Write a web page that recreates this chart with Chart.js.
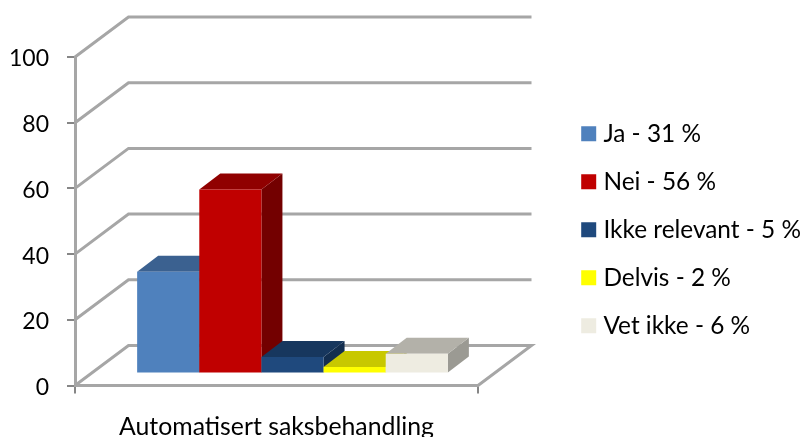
<!DOCTYPE html>
<html><head><meta charset="utf-8">
<style>html,body{margin:0;padding:0;background:#fff}#w{width:802px;height:437px;position:relative}</style>
<script src="https://cdn.jsdelivr.net/npm/chart.js@4"></script>
</head><body><div id="w"><canvas id="c" width="802" height="437"></canvas></div>
<script>
const categories = ['Automatisert saksbehandling'];
const seriesNames = ['Ja - 31 %','Nei - 56 %','Ikke relevant - 5 %','Delvis - 2 %','Vet ikke - 6 %'];
const seriesValues = [31,56,5,2,6];
const frontColors = ['#4F81BD','#C00000','#1F497D','#FFFF00','#EEECE1'];
const topColors = ['#3B6190','#900000','#17375E','#C8C800','#B3B1A9'];
const sideColors = ['#325279','#730000','#132E4F','#A3A300','#9B9A93'];
const tickValues = [0,20,40,60,80,100];
const FONT = 'Lato, Carlito, Calibri, sans-serif';
const WALL = {dx:53.5, dy:-40};
const SHIFT = {dx:16, dy:-12};
const DEPTH = {dx:21, dy:-16};
const LEG_DY = 8.5;
const LEG_DX = 5.6;

const poly=(ctx,pts,color)=>{ctx.beginPath();pts.forEach((p,i)=>i?ctx.lineTo(p[0],p[1]):ctx.moveTo(p[0],p[1]));ctx.closePath();ctx.fillStyle=color;ctx.fill();};

const box3d = {
  id:'box3d',
  afterLayout(chart){ const l=chart.legend; l.top+=LEG_DY; l.bottom+=LEG_DY; l.left+=LEG_DX; l.right+=LEG_DX; },
  beforeDatasetsDraw(chart){
    const {ctx,chartArea:a,scales:{y}}=chart;
    ctx.save();
    ctx.strokeStyle='#A6A6A6'; ctx.lineWidth=3; ctx.lineJoin='miter';
    tickValues.forEach(v=>{
      const py=y.getPixelForValue(v);
      ctx.beginPath();
      ctx.moveTo(a.left,py);
      ctx.lineTo(a.left+WALL.dx,py+WALL.dy);
      ctx.lineTo(a.right+WALL.dx,py+WALL.dy);
      if(v===0) ctx.lineTo(a.right,py);
      ctx.stroke();
    });
    chart.getSortedVisibleDatasetMetas().sort((p,q)=>p.index-q.index).forEach(meta=>{
      meta.data.forEach(el=>{
        const l=el.x-el.width/2+SHIFT.dx, r=el.x+el.width/2+SHIFT.dx;
        const t=el.y+SHIFT.dy, b=el.base+SHIFT.dy, i=meta.index;
        poly(ctx,[[r,t],[r+DEPTH.dx,t+DEPTH.dy],[r+DEPTH.dx,b+DEPTH.dy],[r,b]],sideColors[i]);
        poly(ctx,[[l,t],[l+DEPTH.dx,t+DEPTH.dy],[r+DEPTH.dx,t+DEPTH.dy],[r,t]],topColors[i]);
        ctx.save(); ctx.translate(SHIFT.dx,SHIFT.dy); el.draw(ctx); ctx.restore();
      });
    });
    ctx.restore();
    return false;
  }
};
new Chart(document.getElementById('c'),{
  type:'bar',
  data:{labels:categories,datasets:seriesNames.map((n,i)=>({label:n,data:[seriesValues[i]],backgroundColor:frontColors[i],borderWidth:0,categoryPercentage:0.771,barPercentage:1}))},
  plugins:[box3d],
  options:{
    responsive:false,animation:false,events:[],
    layout:{padding:{top:57,left:0,right:0,bottom:0}},
    plugins:{
      tooltip:{enabled:false},
      legend:{position:'right',fullSize:false,maxWidth:245,labels:{
        boxWidth:5,boxHeight:5,padding:23.6,color:'#000',font:{family:FONT,size:24.4},
        generateLabels:c=>seriesNames.map((n,i)=>({text:n,fillStyle:frontColors[i],strokeStyle:frontColors[i],lineWidth:10,datasetIndex:i,fontColor:'#000'}))
      }}
    },
    scales:{
      x:{grid:{drawOnChartArea:false,tickLength:8,color:'#868686',lineWidth:2},border:{color:'#A6A6A6',width:3},
        afterFit(s){s.height=51.5},
        ticks:{color:'#000',font:{family:FONT,size:24.8},padding:19,maxRotation:0}},
      y:{min:0,max:100,afterBuildTicks(s){s.ticks=tickValues.map(v=>({value:v}))},
        afterFit(s){s.width=75},
        grid:{drawOnChartArea:false,tickLength:8,color:'#868686',lineWidth:2},border:{color:'#A6A6A6',width:3},
        ticks:{color:'#000',font:{family:FONT,size:23},padding:18,labelOffset:2}},
      gap:{position:'right',afterFit(s){s.width=79},grid:{display:false},border:{display:false},ticks:{display:false}}
    }
  }
});
</script></body></html>
